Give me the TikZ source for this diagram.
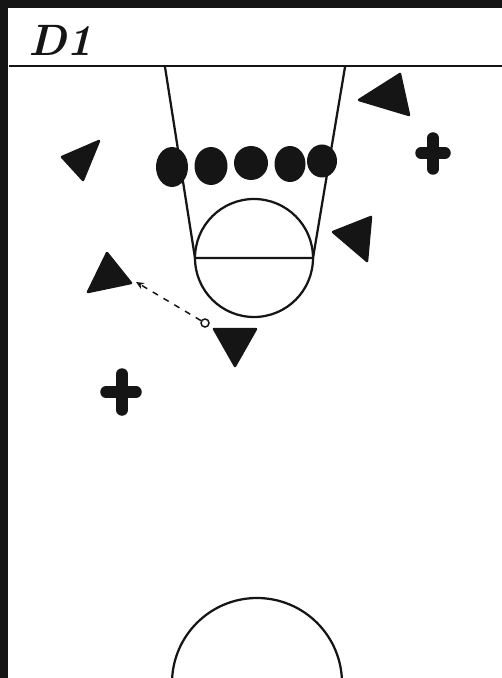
\documentclass[tikz,border=0pt]{standalone}
\usetikzlibrary{arrows.meta}
\definecolor{ink}{HTML}{151515}

\begin{document}
\begin{tikzpicture}[x=0.2mm, y=0.2mm, >={Stealth[length=1.6mm, width=1.4mm]},
  court/.style={draw=ink, line width=0.45mm},
  defender/.style={fill=ink, draw=ink, line width=0.5mm, line join=round},
  shooter/.style={fill=ink},
  cross/.style={draw=ink, line width=2.3mm, line cap=round},
  ball/.style={draw=ink, circle, line width=0.3mm, inner sep=0pt, minimum size=1.6mm},
  pass/.style={draw=ink, ->, line width=0.3mm, dash pattern=on 1.2mm off 1.3mm}]
  \useasboundingbox (0,0) rectangle (502,-678);
  \clip (0,0) rectangle (502,-678);
  % frame and title
  \fill[ink] (0,0) rectangle (502,-8);
  \fill[ink] (0,0) rectangle (8,-678);
  \draw[court] (9,-66) -- (502,-66);
  \node[anchor=base west, inner sep=0pt, text=ink] (title) at (28,-56)
    {\fontsize{25}{25}\selectfont\bfseries\itshape D1};
  % key and circles
  \draw[court] (165,-67) -- (195,-258) -- (313,-258) -- (345,-67);
  \draw[court] (254,-258) circle (59);
  \draw[court] (257,-683) circle (85);
  % players in line
  \fill[shooter] (172,-167) ellipse [x radius=16, y radius=20];
  \fill[shooter] (211,-166) ellipse [x radius=16.5, y radius=19];
  \fill[shooter] (251,-163) ellipse [x radius=17, y radius=17];
  \fill[shooter] (290,-164) ellipse [x radius=15.5, y radius=18];
  \fill[shooter] (322,-161) ellipse [x radius=15, y radius=16.5];
  % defenders
  \filldraw[defender] (62,-157) -- (99,-141) -- (83,-180) -- cycle;
  \filldraw[defender] (359,-100) -- (400,-74) -- (409,-115) -- cycle;
  \filldraw[defender] (333,-232) -- (371,-217) -- (367,-261) -- cycle;
  \filldraw[defender] (107,-253) -- (88,-292) -- (131,-283) -- cycle;
  \filldraw[defender] (214,-329) -- (256,-329) -- (235,-366) -- cycle;
  % coaches
  \draw[cross] (433,-138) -- (433,-169);
  \draw[cross] (421,-153) -- (445,-153);
  \draw[cross] (122,-374) -- (122,-410);
  \draw[cross] (106,-392) -- (136,-392);
  % pass
  \node[ball] (ball) at (205,-323) {};
  \coordinate (wing) at (136,-282);
  \draw[pass] (ball) -- (wing);
\end{tikzpicture}
\end{document}
